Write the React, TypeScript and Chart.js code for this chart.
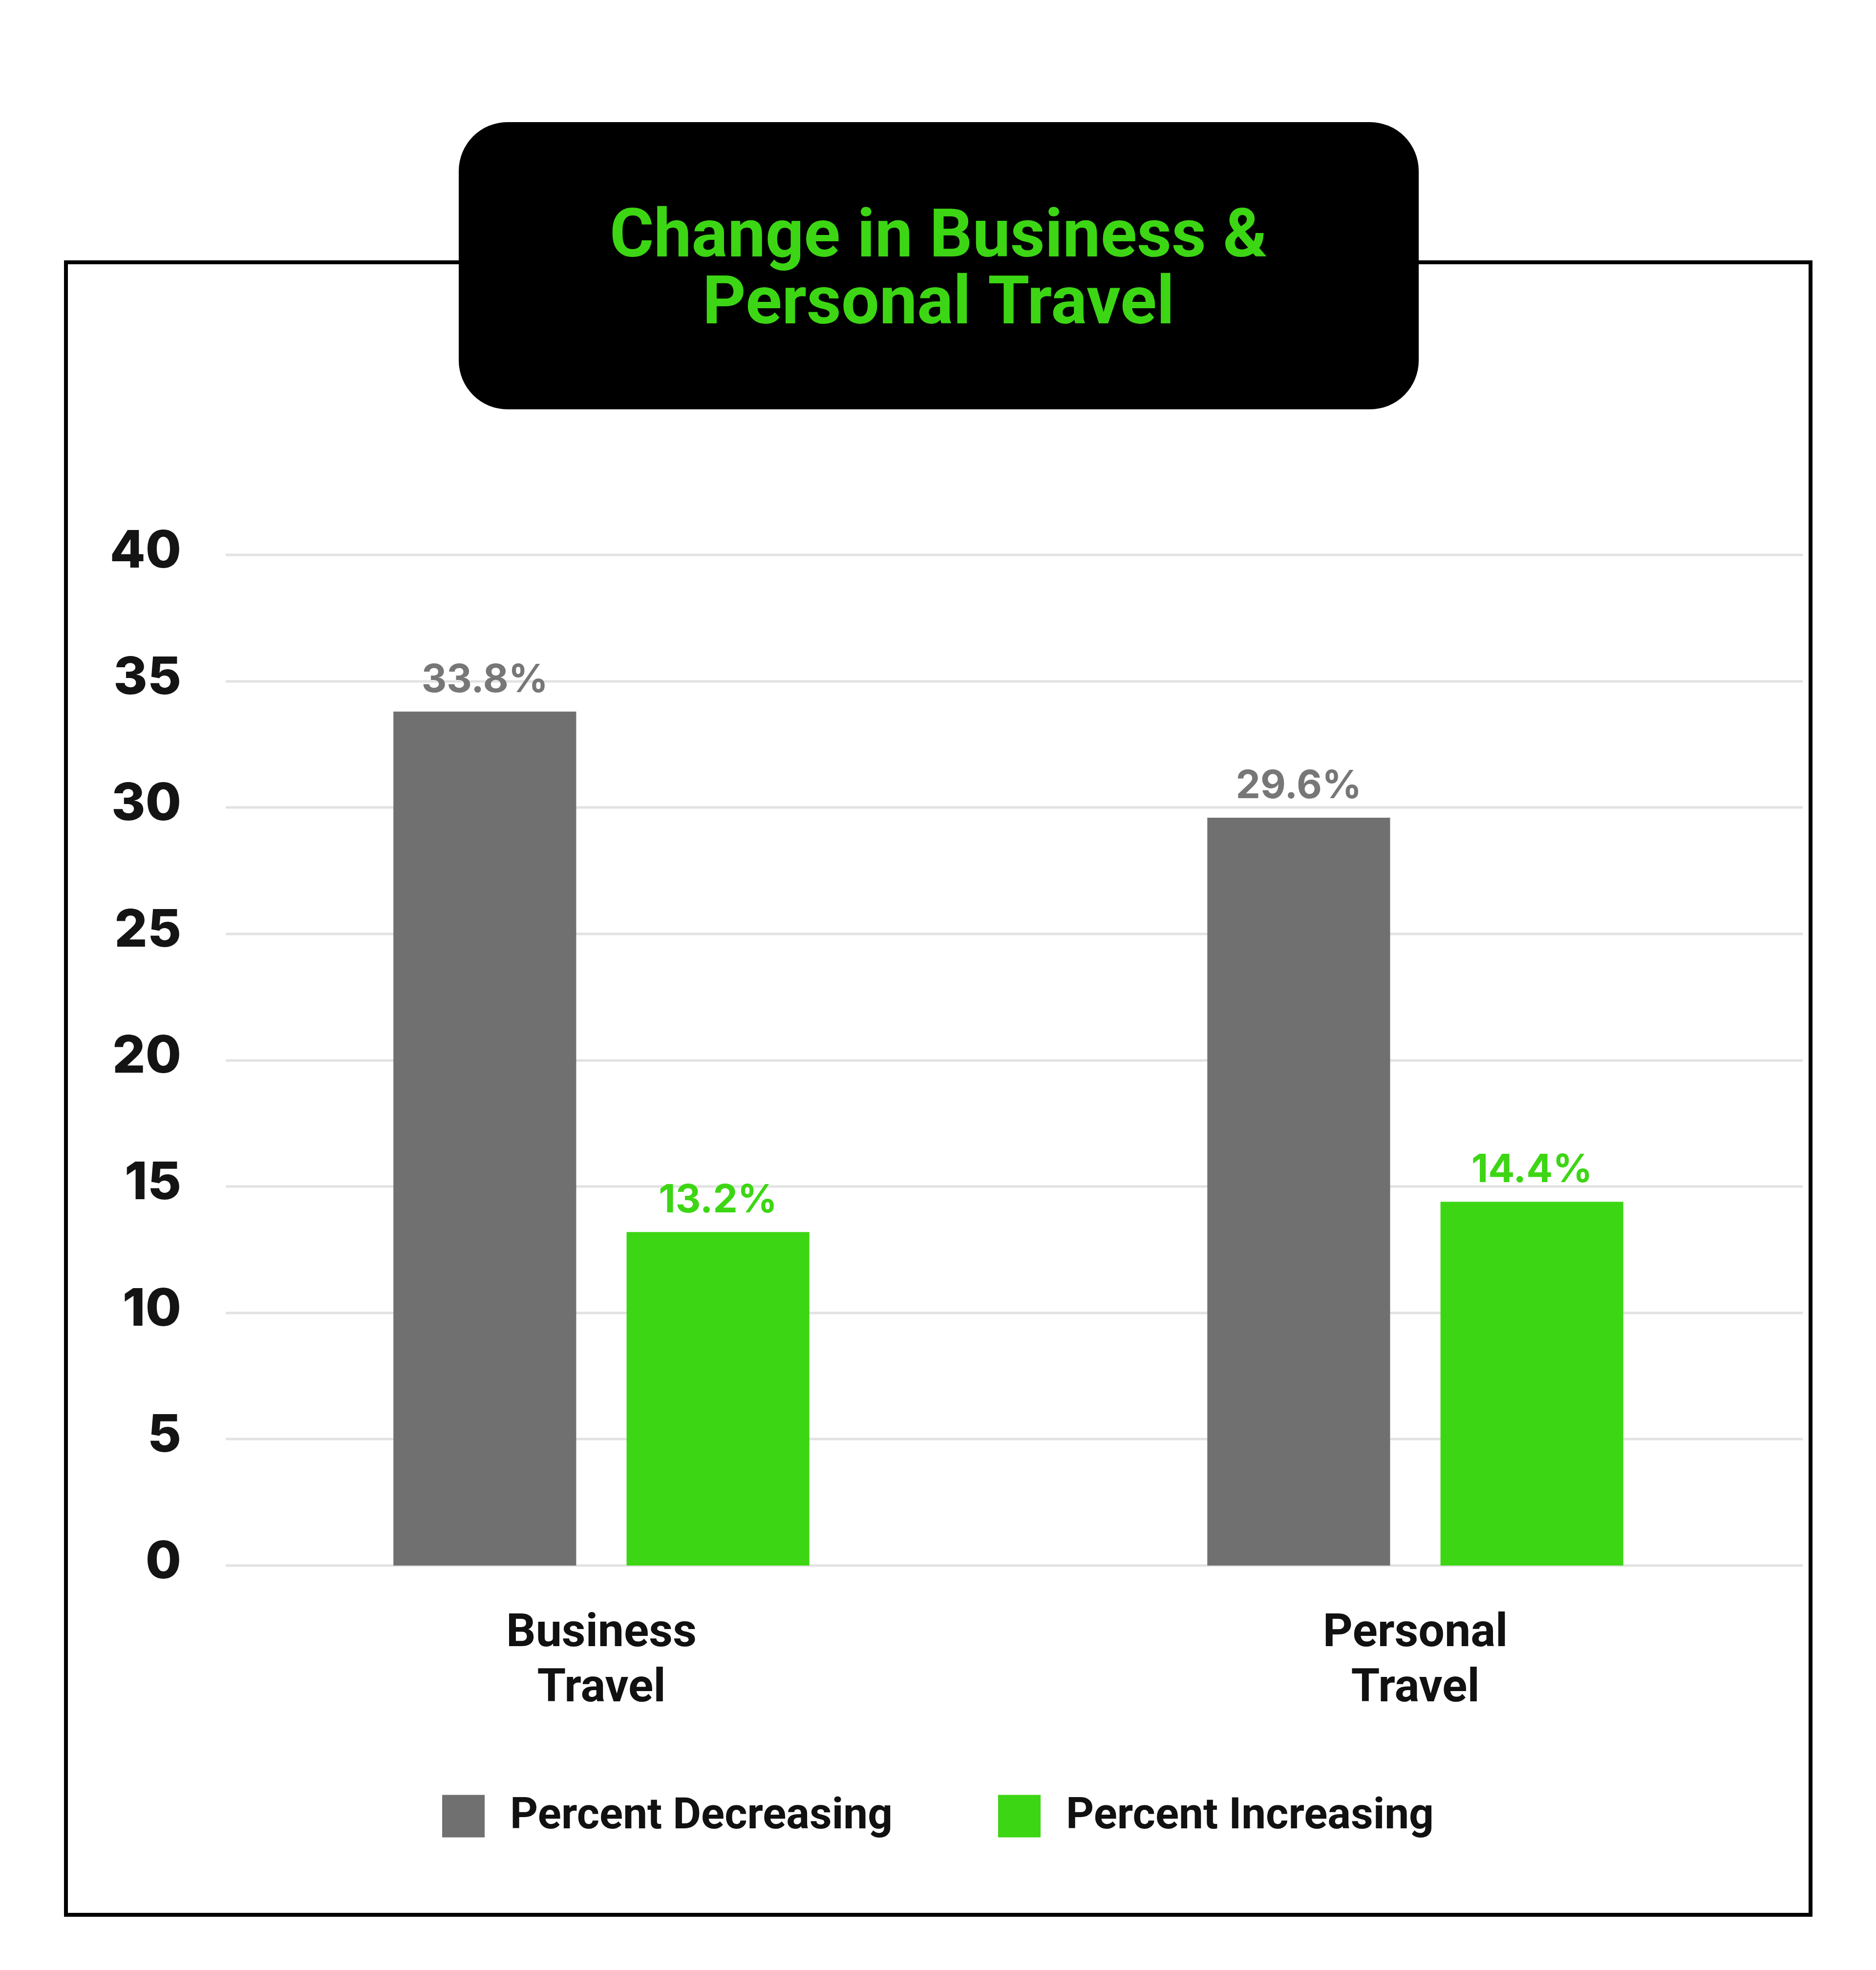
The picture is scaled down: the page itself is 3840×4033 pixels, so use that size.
import { useEffect, useRef } from "react"
import { Chart, registerables } from "chart.js"

Chart.register(...registerables)

// chart data
const categories = [["Business", "Travel"], ["Personal", "Travel"]]
const seriesNames = ["Percent Decreasing", "Percent Increasing"]
const decreasing = [33.8, 29.6]
const increasing = [13.2, 14.4]
const yTicks = [0, 5, 10, 15, 20, 25, 30, 35, 40]
const titleLines = ["Change in Business &", "Personal Travel"]

const GRAY = "#707070"
const GREEN = "#3dd614"
const LABEL_GRAY = "#777777"

// frame + black title box + title text
const framePlugin = {
  id: "frame",
  beforeDraw(chart: any) {
    const ctx = chart.ctx
    ctx.save()
    ctx.fillStyle = "#ffffff"
    ctx.fillRect(0, 0, chart.width, chart.height)
    ctx.strokeStyle = "#000000"
    ctx.lineWidth = 8
    ctx.strokeRect(135, 537, 3571, 3383)
    ctx.fillStyle = "#000000"
    ctx.beginPath()
    ctx.roundRect(939, 250, 1965, 588, 100)
    ctx.fill()
    ctx.fillStyle = GREEN
    ctx.font = "bold 138px Roboto"
    ctx.textAlign = "center"
    ctx.textBaseline = "alphabetic"
    titleLines.forEach((t, i) => ctx.fillText(t, 1921, 525 + i * 137))
    ctx.restore()
  },
}

// horizontal gridlines, a bit narrower than the chart area
const gridPlugin = {
  id: "grid",
  beforeDatasetsDraw(chart: any) {
    const ctx = chart.ctx
    const y = chart.scales.y
    ctx.save()
    ctx.strokeStyle = "#e2e2e2"
    ctx.lineWidth = 5
    yTicks.forEach((v) => {
      const py = Math.round(y.getPixelForValue(v))
      ctx.beginPath()
      ctx.moveTo(462, py)
      ctx.lineTo(3690, py)
      ctx.stroke()
    })
    ctx.restore()
  },
}

// value labels above bars
const valueLabels = {
  id: "valueLabels",
  afterDatasetsDraw(chart: any) {
    const ctx = chart.ctx
    ctx.save()
    ctx.font = "bold 80px Inter"
    ctx.textAlign = "center"
    ctx.textBaseline = "alphabetic"
    chart.data.datasets.forEach((ds: any, di: number) => {
      const meta = chart.getDatasetMeta(di)
      ctx.fillStyle = di === 0 ? LABEL_GRAY : GREEN
      meta.data.forEach((bar: any, i: number) => {
        ctx.fillText(ds.data[i].toFixed(1) + "%", bar.x, bar.y - 40)
      })
    })
    ctx.restore()
  },
}

// legend drawn under the axis labels
const legendPlugin = {
  id: "customLegend",
  afterDraw(chart: any) {
    const ctx = chart.ctx
    const box = 87
    const textGap = 52
    const itemGap = 216
    const cy = 3718
    ctx.save()
    ctx.font = "bold 89px Roboto"
    ctx.textBaseline = "middle"
    ctx.textAlign = "left"
    const items = chart.data.datasets.map((ds: any) => ({
      label: ds.label,
      color: ds.backgroundColor,
      w: box + textGap + ctx.measureText(ds.label).width,
    }))
    const total = items.reduce((s: number, it: any) => s + it.w, 0) + itemGap * (items.length - 1)
    let x = 1920 - total / 2
    items.forEach((it: any) => {
      ctx.fillStyle = it.color
      ctx.fillRect(x, cy - box / 2, box, box)
      ctx.fillStyle = "#111111"
      ctx.fillText(it.label, x + box + textGap, cy + 3)
      x += it.w + itemGap
    })
    ctx.restore()
  },
}

export default function App() {
  const chartRef = useRef<HTMLCanvasElement>(null)
  const chartInstance = useRef<Chart | null>(null)

  useEffect(() => {
    document.body.style.margin = "0"
    if (!chartRef.current) return
    if (chartInstance.current) chartInstance.current.destroy()
    const ctx = chartRef.current.getContext("2d")
    if (!ctx) return

    chartInstance.current = new Chart(ctx, {
      type: "bar",
      data: {
        labels: categories,
        datasets: [
          { label: seriesNames[0], data: decreasing, backgroundColor: GRAY },
          { label: seriesNames[1], data: increasing, backgroundColor: GREEN },
        ],
      },
      options: {
        responsive: true,
        maintainAspectRatio: false,
        animation: false,
        layout: { padding: { top: 1136, bottom: 428, left: 0, right: 110 } },
        datasets: { bar: { categoryPercentage: 0.573, barPercentage: 0.784 } },
        plugins: {
          legend: { display: false },
          tooltip: { enabled: false },
          title: { display: false },
        },
        scales: {
          x: {
            grid: { display: false, drawTicks: false },
            border: { display: false },
            ticks: {
              color: "#111111",
              font: { family: "Roboto", size: 95, weight: "bold", lineHeight: 1.19 },
              padding: 85,
              maxRotation: 0,
              autoSkip: false,
            },
            afterFit: (s: any) => {
              s.height = 400
            },
          },
          y: {
            min: 0,
            max: 40,
            grid: { display: false, drawTicks: false },
            border: { display: false },
            ticks: {
              stepSize: 5,
              color: "#141414",
              font: { family: "Inter", size: 106, weight: 800 },
              padding: 27,
              labelOffset: -6,
            },
            afterFit: (s: any) => {
              s.width = 398
            },
          },
        },
      },
      plugins: [framePlugin, gridPlugin, valueLabels, legendPlugin],
    } as any)

    return () => {
      if (chartInstance.current) {
        chartInstance.current.destroy()
        chartInstance.current = null
      }
    }
  }, [])

  return (
    <div style={{ position: "relative", width: "3840px", height: "4033px" }}>
      <canvas ref={chartRef} />
    </div>
  )
}
